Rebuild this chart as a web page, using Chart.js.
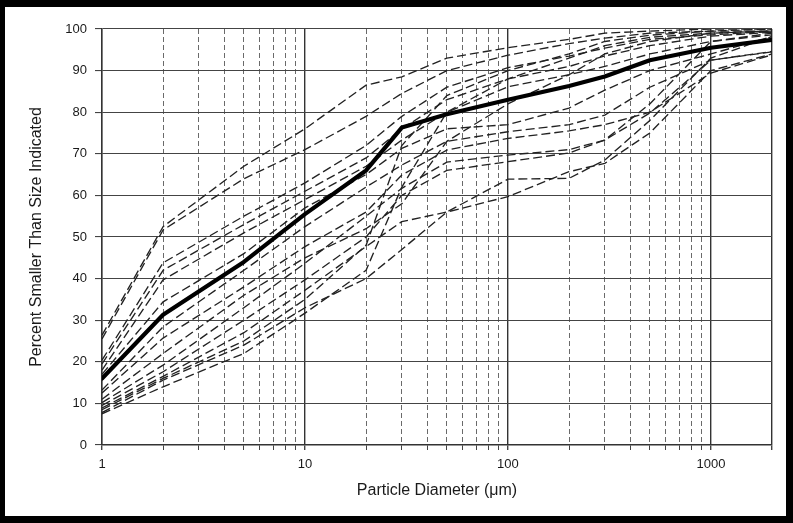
<!DOCTYPE html>
<html><head><meta charset="utf-8">
<script src="https://cdn.jsdelivr.net/npm/chart.js@4"></script>
<style>
html,body{margin:0;padding:0;background:#000;width:793px;height:523px;overflow:hidden}
#paper{position:absolute;left:5px;top:7px;width:781px;height:509px;background:#fff}
#wrap{position:absolute;left:0;top:0;width:793px;height:523px}
</style></head><body>
<div id="paper"></div>
<div id="wrap"><canvas id="c" width="793" height="523"></canvas></div>
<script>
// Particle sizes (µm) at which the curves are sampled
const sizes = [1, 2, 5, 10, 20, 30, 50, 100, 200, 300, 500, 1000, 2000];

// Thick (average) curve
const meanCurve = [16, 31.3, 44, 55.5, 66, 76.3, 79.5, 83, 86.3, 88.6, 92.5, 95.5, 97.4];

// Individual dashed curves
const curveA = [26.4, 52.5, 67, 76, 86.5, 88.5, 93, 95.5, 97.5, 99, 99.5, 100, 100];
const curveB = [25.5, 51.7, 64, 71, 79, 84.5, 90, 93.7, 96.5, 97.8, 99, 99.5, 99.5];
const curveC = [20.4, 43.8, 55, 63, 72, 79, 86, 90.7, 93.5, 95.4, 97.5, 98.6, 99.4];
const curveD = [19.5, 42, 53, 61, 69, 76, 83, 88, 91, 93.5, 96, 98.3, 99.2];
const curveE = [18, 39.7, 51, 59, 67, 73.3, 80, 86.1, 89, 91, 94, 97, 98.6];
const curveF = [17, 34.4, 46, 57, 65, 71.3, 76, 77, 81, 85.3, 90, 94, 98.2];
const curveG = [13.2, 28.4, 42, 52.5, 62, 67.3, 73, 75.3, 77, 79.3, 86, 92.5, 94.6];
const curveH = [12.5, 25.7, 38, 47.7, 56, 64.9, 70.9, 73.7, 75.5, 77, 80, 89.4, 93.8];
const curveI = [10.2, 19.2, 33, 43.7, 55, 61.7, 68, 69.7, 71, 73.3, 82, 97, 99];
const curveJ = [9.5, 17.6, 30, 39.7, 50, 60, 66, 68.1, 70.2, 73.3, 79.8, 92.5, 94.5];
const curveK = [8.9, 16.5, 27, 37.2, 47.7, 53.7, 56, 59.7, 65.7, 67.7, 75, 90, 94];
const curveL = [7.8, 15.6, 24, 33, 40, 47, 56, 63.9, 64.1, 68.5, 78, 93, 98.2];
const curveM = [7.5, 14, 22, 31.7, 42, 62, 80, 88, 93, 96, 98, 99, 99.5];
const curveN = [8.5, 16, 25, 35, 48, 72, 84, 90, 94, 97, 98.5, 99.5, 100];
const curveO = [11, 22, 36, 45, 52, 58, 73, 82, 89, 94, 97, 99, 99.5];

const dashedCurves = [curveA, curveB, curveC, curveD, curveE, curveF, curveG, curveH,
  curveI, curveJ, curveK, curveL, curveM, curveN, curveO];

// Axis ticks
const xTickValues = [1,2,3,4,5,6,7,8,9,10,20,30,40,50,60,70,80,90,100,200,300,400,500,600,700,800,900,1000,2000];
const xMajorValues = [1, 10, 100, 1000, 2000];
const xTickLabels = {1: '1', 10: '10', 100: '100', 1000: '1000'};
const yTickValues = [0,10,20,30,40,50,60,70,80,90,100];

const FONT = "'Liberation Sans', Arial, Helvetica, sans-serif";
const toPts = arr => arr.map((v, i) => ({x: sizes[i], y: v}));
const isMajor = v => xMajorValues.includes(v);

const datasets = [{
  data: toPts(meanCurve), borderColor: '#000', borderWidth: 4.2,
  pointRadius: 0, borderJoinStyle: 'round', borderCapStyle: 'round'
}];
dashedCurves.forEach(c => datasets.push({
  data: toPts(c), borderColor: '#222', borderWidth: 1.35,
  borderDash: [9, 4], pointRadius: 0
}));

new Chart(document.getElementById('c'), {
  type: 'line',
  data: {datasets},
  options: {
    responsive: false, animation: false, devicePixelRatio: 1,
    layout: {padding: {left: 0, right: 21, top: 29, bottom: 0}},
    plugins: {legend: {display: false}, tooltip: {enabled: false}},
    scales: {
      x: {
        type: 'logarithmic', min: 1, max: 2000,
        afterBuildTicks: s => { s.ticks = xTickValues.map(v => ({value: v})); },
        afterFit: s => { s.height = 78; },
        ticks: {
          autoSkip: false, maxRotation: 0, minRotation: 0, padding: 7,
          color: '#1a1a1a', font: {family: FONT, size: 13},
          callback: v => xTickLabels[v] || ''
        },
        grid: {
          color: c => (c.tick && isMajor(c.tick.value)) ? '#333' : '#6a6a6a',
          lineWidth: c => (c.tick && isMajor(c.tick.value)) ? 1.4 : 1,
          tickLength: 5, tickColor: '#444'
        },
        border: {
          display: true, color: '#333', width: 1.4,
          dash: c => (c.tick && !isMajor(c.tick.value)) ? [5, 3] : []
        },
        title: {
          display: true, text: 'Particle Diameter (\u03bcm)', color: '#1a1a1a',
          font: {family: FONT, size: 16}, padding: {top: 0, bottom: 23}
        }
      },
      y: {
        type: 'linear', min: 0, max: 100,
        afterBuildTicks: s => { s.ticks = yTickValues.map(v => ({value: v})); },
        afterFit: s => { s.width = 102; },
        ticks: {padding: 8, color: '#1a1a1a', font: {family: FONT, size: 13}},
        grid: {color: '#444', lineWidth: 1.1, tickLength: 7, tickColor: '#444'},
        border: {display: true, color: '#333', width: 1.4},
        title: {
          display: true, text: 'Percent Smaller Than Size Indicated', color: '#1a1a1a',
          font: {family: FONT, size: 16}, padding: {top: 27, bottom: 0}
        }
      }
    }
  }
});
</script>
</body></html>
